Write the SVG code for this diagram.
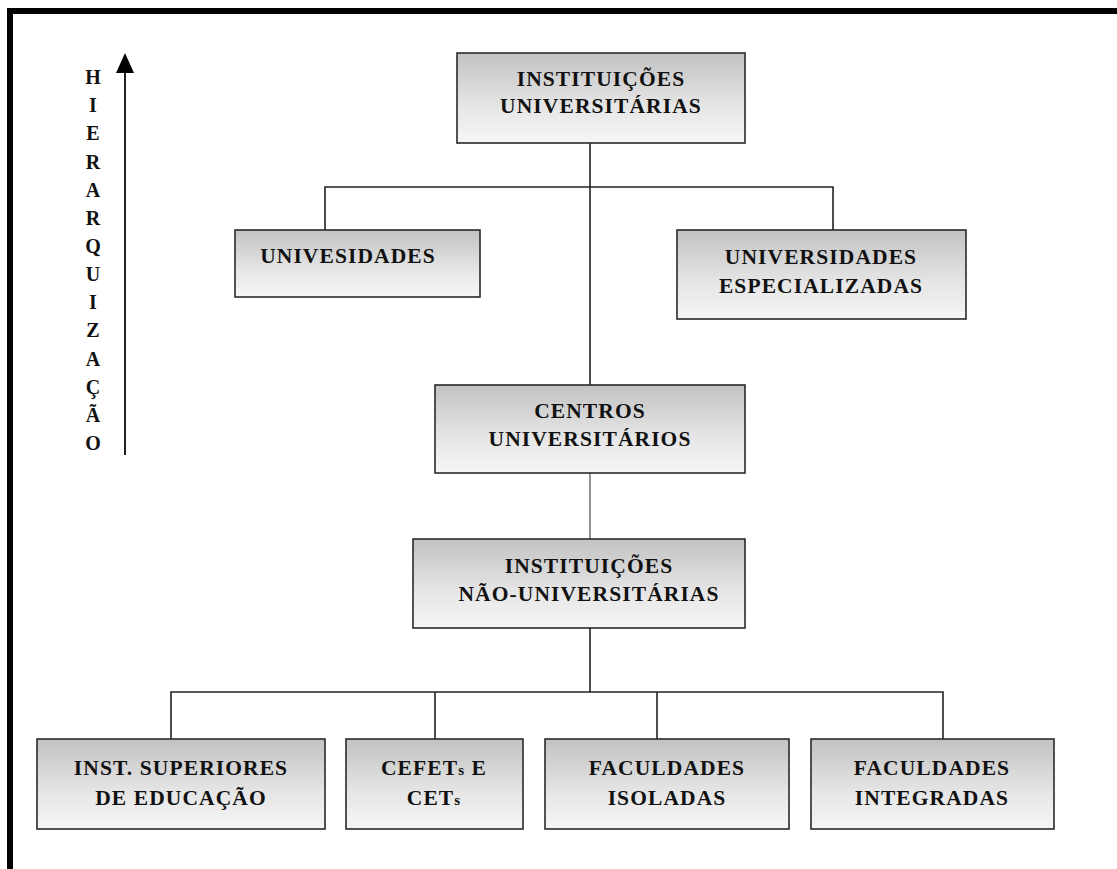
<svg xmlns="http://www.w3.org/2000/svg" width="1117" height="869" viewBox="0 0 1117 869">
<style>
.box{fill:url(#g);stroke:#2a2a2a;stroke-width:1.6}
.t{font-family:"Liberation Serif","Times New Roman",serif;font-weight:bold;font-size:21.5px;fill:#111;text-anchor:middle;letter-spacing:1.1px}
.v{font-family:"Liberation Serif","Times New Roman",serif;font-weight:bold;font-size:20px;fill:#111;text-anchor:middle}
.c{stroke:#222;stroke-width:1.6;fill:none}
.sm{font-size:15px}
</style>
<defs>
<linearGradient id="g" x1="0" y1="0" x2="0" y2="1">
<stop offset="0" stop-color="#c2c2c2"/>
<stop offset="0.6" stop-color="#e6e6e6"/>
<stop offset="1" stop-color="#f6f6f6"/>
</linearGradient>
</defs>
<rect width="1117" height="869" fill="#fff"/>
<g id="frame">
<rect x="7" y="8" width="1110" height="6" fill="#000"/>
<rect x="7" y="8" width="6" height="861" fill="#000"/>
</g>
<g id="axis">
<line x1="125" y1="70" x2="125" y2="455" stroke="#222" stroke-width="2"/>
<polygon points="125,53 116,73 134,73" fill="#000"/>
<text class="v" x="93" y="84">H</text>
<text class="v" x="93" y="112">I</text>
<text class="v" x="93" y="140">E</text>
<text class="v" x="93" y="169">R</text>
<text class="v" x="93" y="197">A</text>
<text class="v" x="93" y="225">R</text>
<text class="v" x="93" y="253">Q</text>
<text class="v" x="93" y="281">U</text>
<text class="v" x="93" y="309">I</text>
<text class="v" x="93" y="337">Z</text>
<text class="v" x="93" y="366">A</text>
<text class="v" x="93" y="394">Ç</text>
<text class="v" x="93" y="422">Ã</text>
<text class="v" x="93" y="450">O</text>
</g>
<g id="connectors">
<line class="c" x1="590" y1="143" x2="590" y2="385"/>
<polyline class="c" points="325,230 325,187 833,187 833,230"/>
<line x1="590" y1="473" x2="590" y2="539" stroke="#888" stroke-width="1.8"/>
<line class="c" x1="590" y1="628" x2="590" y2="692"/>
<polyline class="c" points="171,739 171,692 943,692 943,739"/>
<line class="c" x1="435" y1="692" x2="435" y2="739"/>
<line class="c" x1="657" y1="692" x2="657" y2="739"/>
</g>
<g id="inst-univ">
<rect class="box" x="457" y="53" width="288" height="90"/>
<text class="t" x="601" y="86">INSTITUIÇÕES</text>
<text class="t" x="601" y="113">UNIVERSITÁRIAS</text>
</g>
<g id="univesidades">
<rect class="box" x="235" y="230" width="245" height="67"/>
<text class="t" x="348" y="263">UNIVESIDADES</text>
</g>
<g id="univ-espec">
<rect class="box" x="677" y="230" width="289" height="89"/>
<text class="t" x="821" y="264">UNIVERSIDADES</text>
<text class="t" x="821" y="293">ESPECIALIZADAS</text>
</g>
<g id="centros">
<rect class="box" x="435" y="385" width="310" height="88"/>
<text class="t" x="590" y="418">CENTROS</text>
<text class="t" x="590" y="446">UNIVERSITÁRIOS</text>
</g>
<g id="inst-nao-univ">
<rect class="box" x="413" y="539" width="332" height="89"/>
<text class="t" x="589" y="573">INSTITUIÇÕES</text>
<text class="t" x="589" y="601">NÃO-UNIVERSITÁRIAS</text>
</g>
<g id="inst-sup">
<rect class="box" x="37" y="739" width="288" height="90"/>
<text class="t" x="181" y="775">INST. SUPERIORES</text>
<text class="t" x="181" y="805">DE EDUCAÇÃO</text>
</g>
<g id="cefets">
<rect class="box" x="346" y="739" width="177" height="90"/>
<text class="t" x="434" y="775">CEFET<tspan class="sm">s</tspan> E</text>
<text class="t" x="434" y="805">CET<tspan class="sm">s</tspan></text>
</g>
<g id="fac-isol">
<rect class="box" x="545" y="739" width="244" height="90"/>
<text class="t" x="667" y="775">FACULDADES</text>
<text class="t" x="667" y="805">ISOLADAS</text>
</g>
<g id="fac-integ">
<rect class="box" x="811" y="739" width="243" height="90"/>
<text class="t" x="932" y="775">FACULDADES</text>
<text class="t" x="932" y="805">INTEGRADAS</text>
</g>
</svg>
